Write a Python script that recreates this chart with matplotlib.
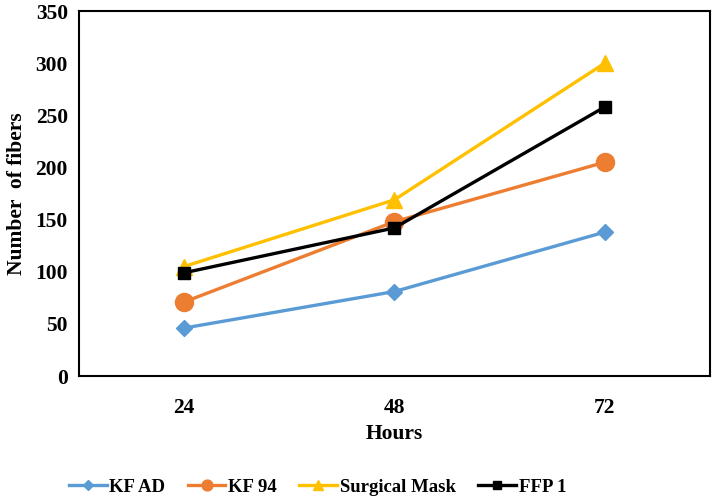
import matplotlib
matplotlib.use("Agg")
import numpy as np
import matplotlib.pyplot as plt
from matplotlib.lines import Line2D

hours = ["24", "48", "72"]
kf_ad = [46, 81, 138]
kf_94 = [71, 148, 205]
surgical = [105, 169, 300]
ffp1 = [99, 142, 258]

plt.rcParams['font.family'] = ['Liberation Serif', 'DejaVu Serif']
plt.rcParams['font.weight'] = 'bold'

fig = plt.figure(figsize=(7.2, 5.01), dpi=100)
ax = fig.add_axes([0.1097, 0.2495, 0.8763, 0.7285])

x = np.arange(len(hours))
series = [
    ("KF AD", kf_ad, "#5B9BD5", "D", 8),
    ("KF 94", kf_94, "#ED7D31", "o", 13),
    ("Surgical Mask", surgical, "#FFC000", "^", 11),
    ("FFP 1", ffp1, "#000000", "s", 9),
]
handles = []
for name, vals, col, mk, ms in series:
    ax.plot(x, vals, color=col, lw=2.4, marker=mk, markersize=ms)
    # legend markers are drawn smaller, like the original
    handles.append(Line2D([], [], color=col, lw=2.4, marker=mk,
                          markersize=ms * 0.6, label=name))

ax.set_xlim(-0.5, 2.5)
ax.set_ylim(0, 350)
ax.set_yticks(range(0, 351, 50))
ax.set_xticks(x)
ax.set_xticklabels(hours)
ax.tick_params(length=0, labelsize=15.5)
ax.tick_params(axis='x', pad=16)
ax.tick_params(axis='y', pad=8)
for s in ax.spines.values():
    s.set_linewidth(1.5)

ax.set_xlabel("Hours", fontsize=15.5, fontweight='bold', labelpad=4)
ax.set_ylabel("Number  of fibers", fontsize=15.5, fontweight='bold', labelpad=6)

fig.legend(handles=handles, loc='center', bbox_to_anchor=(0.441, 0.028), ncol=4,
           frameon=False, fontsize=13.5, handlelength=2.0, columnspacing=1.2,
           handletextpad=0.15)

fig.savefig("out.png", dpi=100)
